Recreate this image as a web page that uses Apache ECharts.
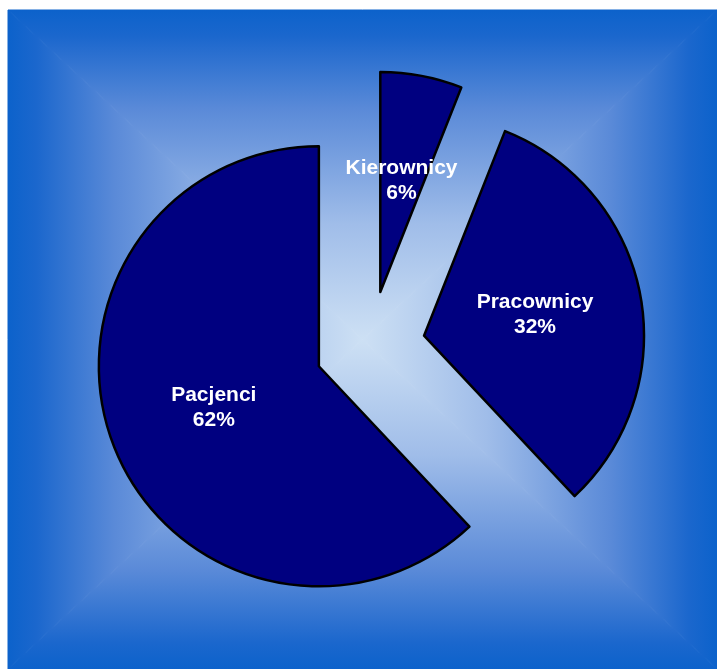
<!DOCTYPE html>
<html>
<head>
<meta charset="utf-8">
<script src="https://cdn.jsdelivr.net/npm/echarts@6/dist/echarts.min.js"></script>
<style>
  html, body { margin: 0; padding: 0; background: #ffffff; }
  #chart { width: 717px; height: 669px; }
</style>
</head>
<body>
<div id="chart"></div>
<script>
// Share of each group
const categories = ['Kierownicy', 'Pracownicy', 'Pacjenci'];
const shares = [6, 32, 62];

// Backdrop rectangle and its "from centre" gradient colours
const bgLeft = 8, bgTop = 10, bgRight = 717, bgBottom = 669;
const fadeStops = [
  { offset: 0, color: '#0c62cb' },
  { offset: 0.08, color: '#1b67cd' },
  { offset: 0.3, color: '#5a8ad8' },
  { offset: 0.65, color: '#a0bde9' },
  { offset: 1, color: '#cde0f4' }
];

const chart = echarts.init(document.getElementById('chart'), null, { renderer: 'canvas' });

const cx = (bgLeft + bgRight) / 2;
const cy = (bgTop + bgBottom) / 2;

function grad(x, y, x2, y2) {
  return { type: 'linear', x: x, y: y, x2: x2, y2: y2, global: true, colorStops: fadeStops };
}

// Four triangles meeting at the centre give a rectangular radial fade
const backdrop = [
  { pts: [[bgLeft, bgTop], [bgRight, bgTop], [cx, cy]], fill: grad(0, bgTop, 0, cy) },
  { pts: [[bgLeft, bgBottom], [bgRight, bgBottom], [cx, cy]], fill: grad(0, bgBottom, 0, cy) },
  { pts: [[bgLeft, bgTop], [bgLeft, bgBottom], [cx, cy]], fill: grad(bgLeft, 0, cx, 0) },
  { pts: [[bgRight, bgTop], [bgRight, bgBottom], [cx, cy]], fill: grad(bgRight, 0, cx, 0) }
].map(t => ({
  type: 'polygon',
  z: -10,
  silent: true,
  shape: { points: t.pts },
  style: { fill: t.fill, stroke: t.fill, lineWidth: 1 }
}));

chart.setOption({
  animation: false,
  graphic: { elements: backdrop },
  series: [{
    type: 'pie',
    center: [370, 346],
    radius: [0, 220],
    startAngle: 90,
    clockwise: true,
    selectedMode: 'multiple',
    selectedOffset: 55,
    emphasis: { disabled: true },
    itemStyle: { color: '#000080', borderColor: '#000000', borderWidth: 2.5 },
    label: {
      show: true,
      position: 'inside',
      formatter: '{b}\n{d}%',
      color: '#ffffff',
      fontFamily: 'Liberation Sans, Arial, sans-serif',
      fontWeight: 'bold',
      fontSize: 21,
      lineHeight: 25,
      align: 'center'
    },
    labelLine: { show: false },
    data: categories.map((name, i) => ({ name: name, value: shares[i], selected: true }))
  }]
});
</script>
</body>
</html>
